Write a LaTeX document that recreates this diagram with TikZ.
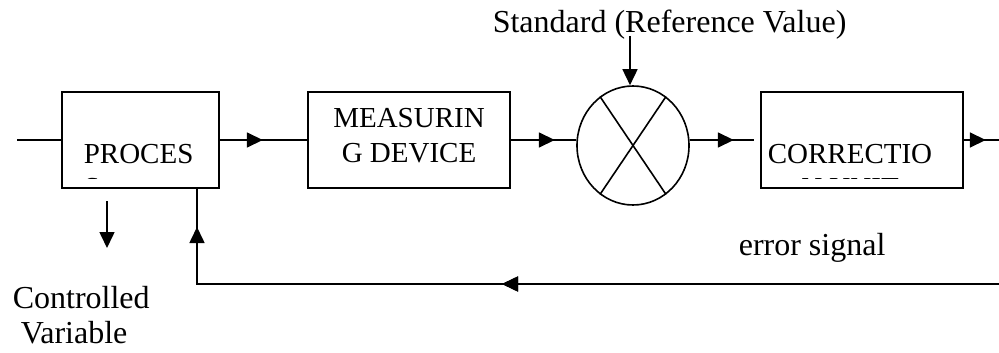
\documentclass[tikz,border=0pt]{standalone}
\usepackage{fontspec}
\setmainfont{Liberation Serif}
\usetikzlibrary{arrows.meta,shapes.geometric,decorations.markings}
\begin{document}
\begin{tikzpicture}[x=1pt,y=-1pt,
  line width=1.6pt,
  blk/.style={draw, rectangle, inner sep=0pt, minimum width=#1, minimum height=96pt},
  boxtext/.style={inner sep=0pt, font=\fontsize{29}{34}\selectfont},
  labtext/.style={inner sep=0pt, font=\fontsize{32}{38}\selectfont},
  tipend/.style={-{Triangle[length=16pt,width=15pt]}},
  midarrow/.style={postaction={decorate}, decoration={markings, mark=at position #1 with {\arrow{Triangle[length=16pt,width=15pt]}}}},
]
\useasboundingbox (0,0) rectangle (999,353);

% blocks
\node[blk=157pt] (proc) at (140.5,140) {};
\node[blk=202pt] (meas) at (409,140) {};
\node[blk=202pt] (corr) at (862,140) {};
\node[draw, ellipse, inner sep=0pt, minimum width=112pt, minimum height=119pt] (cmp) at (633,145.5) {};
\draw (cmp.124) -- (cmp.-56);
\draw (cmp.56) -- (cmp.-124);

% texts
\node[boxtext, anchor=base west] (proctxt) at (83,163) {PROCES};
\node[boxtext, anchor=base] (meastxtA) at (409,128) {MEASURIN};
\node[boxtext, anchor=base] (meastxtB) at (409,162) {G DEVICE};
\node[boxtext, anchor=base] (corrtxt) at (850,163) {CORRECTIO};
\begin{scope}
  \clip (0,0) rectangle (999,178);
  \node[boxtext, anchor=base west] (proctxtS) at (83,197) {S};
  \node[boxtext, anchor=base] (corrtxtN) at (850,197) {N UNIT};
\end{scope}
\node[labtext, anchor=base west] (std) at (492,33) {Standard (Reference Value)};
\node[labtext, anchor=base west] (err) at (738,255) {error signal};
\node[labtext, anchor=base west] (ctrlA) at (12,308) {Controlled};
\node[labtext, anchor=base west] (ctrlB) at (20,343) {Variable};

% coordinates
\coordinate (in) at (17,140);
\coordinate (out) at (999,140);
\coordinate (fbstart) at (999,284);
\coordinate (fbcorner) at (197,284);
\coordinate (stdtop) at (630,36);
\coordinate (dvtop) at (107,201);
\coordinate (dvtip) at (107,248);

% connectors
\draw (in) -- (proc.west);
\draw[midarrow=43pt] (proc.east) -- (meas.west);
\draw[midarrow=44pt] (meas.east) -- (meas.east -| cmp.west);
\draw[midarrow=44pt] (cmp.east |- corr.west) -- ([xshift=-6pt]corr.west);
\draw[midarrow=22pt] (corr.east) -- (out);
\draw[midarrow=497pt, postaction={decorate, decoration={markings, mark=at position 859pt with {\arrow{Triangle[length=16pt,width=15pt]}}}}]
  (fbstart) -- (fbcorner) -- (fbcorner |- proc.south);
\draw[tipend] (stdtop) -- (stdtop |- cmp.north);
\draw[tipend] (dvtop) -- (dvtip);
\end{tikzpicture}
\end{document}
